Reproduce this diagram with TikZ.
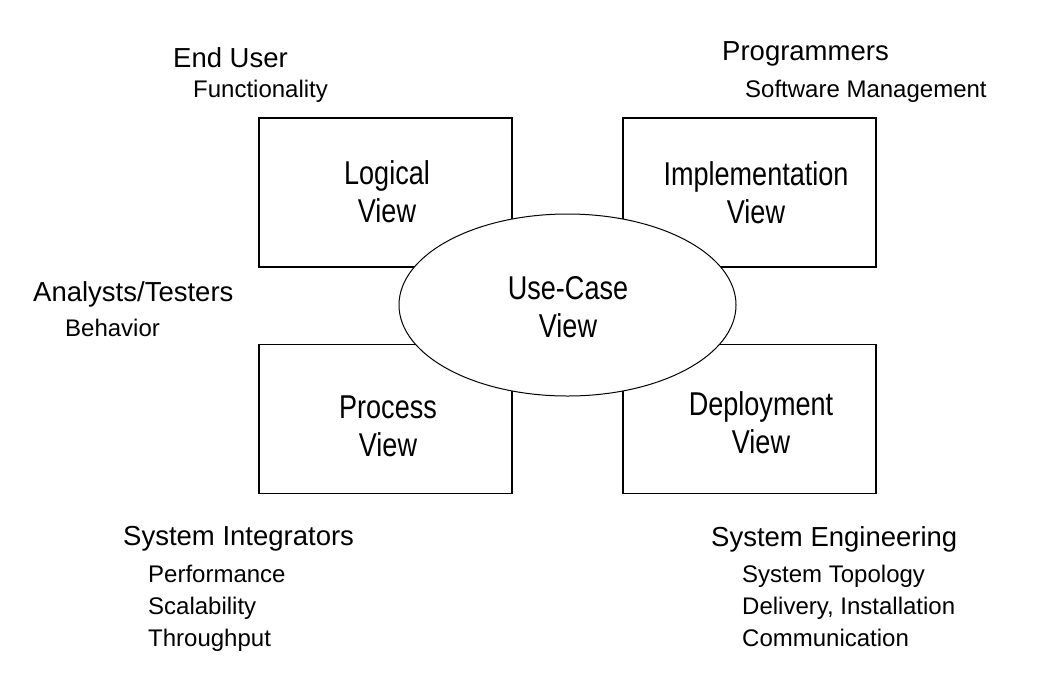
\documentclass[tikz,border=0pt]{standalone}
\usepackage{fontspec}
\setmainfont{Liberation Sans}
\newfontfamily\boxfont[FakeStretch=0.82]{Liberation Sans}
\usetikzlibrary{shapes.geometric}
\begin{document}
\begin{tikzpicture}[x=1pt,y=-1pt,
  viewbox/.style={draw, line width=1.3pt, rectangle, inner sep=0pt, minimum width=253pt, minimum height=149pt},
  viewtext/.style={font=\boxfont\fontsize{33}{38}\selectfont, align=center, anchor=base, inner sep=0pt},
  head/.style={font=\fontsize{27.5}{32}\selectfont, anchor=base west, inner sep=0pt},
  sub/.style={font=\fontsize{24}{32}\selectfont, align=left, anchor=base west, inner sep=0pt}]
\useasboundingbox[fill=white] (0,0) rectangle (1051,673);

% the four view boxes
\node[viewbox] (logical) at (385.5,192.5) {};
\node[viewbox] (implementation) at (749.5,192.5) {};
\node[viewbox] (process) at (385.5,419) {};
\node[viewbox] (deployment) at (749.5,419) {};

% central ellipse
\node[ellipse, draw, fill=white, line width=1pt, minimum width=337pt, minimum height=182pt, inner sep=0pt] (usecase) at (567.5,305) {};

% texts in the shapes (anchor = baseline of the last line)
\node[viewtext] (logicalt) at (387,222) {Logical\\View};
\node[viewtext] (implementationt) at (756,223) {Implementation\\View};
\node[viewtext] (processt) at (388,456) {Process\\View};
\node[viewtext] (deploymentt) at (761,453) {Deployment\\View};
\node[viewtext] (usecaset) at (568,337) {Use-Case\\View};

% stakeholders
\node[head] (enduser) at (173,67) {End User};
\node[sub] (functionality) at (193,97) {Functionality};
\node[head] (programmers) at (722,60) {Programmers};
\node[sub] (software) at (745,97) {Software Management};
\node[head] (analysts) at (33,301) {Analysts/Testers};
\node[sub] (behavior) at (65,336) {Behavior};
\node[head] (integrators) at (123,545) {System Integrators};
\node[sub] (perf) at (148,646) {Performance\\Scalability\\Throughput};
\node[head] (engineering) at (711,546) {System Engineering};
\node[sub] (topology) at (742,646) {System Topology\\Delivery, Installation\\Communication};
\end{tikzpicture}
\end{document}
